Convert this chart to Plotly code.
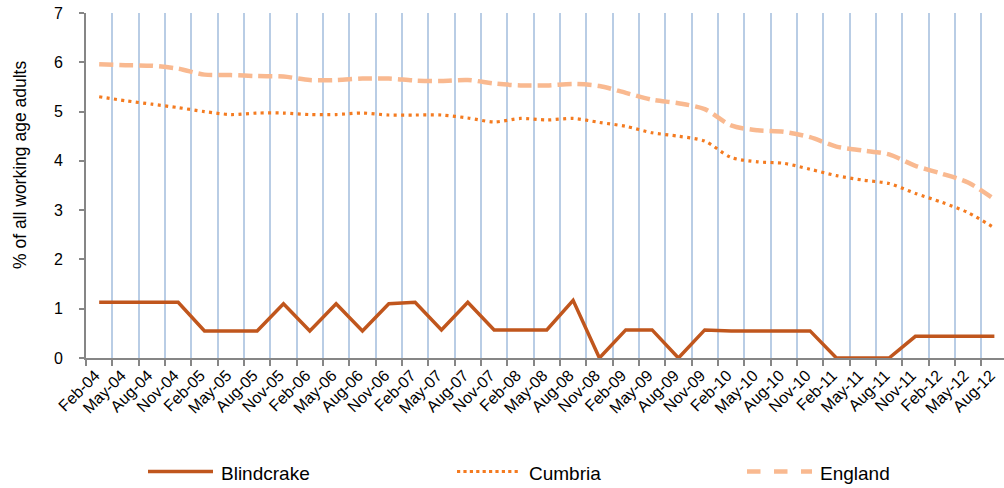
import plotly.graph_objects as go

categories = ["Feb-04", "May-04", "Aug-04", "Nov-04", "Feb-05", "May-05", "Aug-05", "Nov-05",
              "Feb-06", "May-06", "Aug-06", "Nov-06", "Feb-07", "May-07", "Aug-07", "Nov-07",
              "Feb-08", "May-08", "Aug-08", "Nov-08", "Feb-09", "May-09", "Aug-09", "Nov-09",
              "Feb-10", "May-10", "Aug-10", "Nov-10", "Feb-11", "May-11", "Aug-11", "Nov-11",
              "Feb-12", "May-12", "Aug-12"]

blindcrake = [1.13, 1.13, 1.13, 1.13, 0.55, 0.55, 0.55, 1.10, 0.55, 1.10, 0.55, 1.10,
              1.13, 0.57, 1.13, 0.57, 0.57, 0.57, 1.17, 0.0, 0.57, 0.57, 0.0, 0.57,
              0.55, 0.55, 0.55, 0.55, 0.0, 0.0, 0.0, 0.44, 0.44, 0.44, 0.44]

cumbria = [5.30, 5.22, 5.15, 5.08, 5.00, 4.94, 4.97, 4.97, 4.94, 4.94, 4.97, 4.93,
           4.93, 4.93, 4.87, 4.79, 4.86, 4.83, 4.86, 4.78, 4.70, 4.57, 4.50, 4.40,
           4.07, 3.98, 3.95, 3.83, 3.70, 3.61, 3.54, 3.34, 3.16, 2.95, 2.64]

england = [5.96, 5.94, 5.93, 5.87, 5.75, 5.74, 5.72, 5.71, 5.64, 5.64, 5.67, 5.67,
           5.63, 5.62, 5.64, 5.57, 5.53, 5.53, 5.56, 5.52, 5.38, 5.24, 5.17, 5.05,
           4.72, 4.62, 4.59, 4.48, 4.29, 4.21, 4.13, 3.90, 3.74, 3.56, 3.22]

series_names = ["Blindcrake", "Cumbria", "England"]
y_title = "% of all working age adults"
y_ticks = [0, 1, 2, 3, 4, 5, 6, 7]

C_BLIND = "#C0561D"
C_CUMB = "#F47B20"
C_ENG = "#F9B990"
FONT = "Liberation Sans, Arial, sans-serif"

W, H = 1004, 488
ML, MT, MB, MR = 86, 13, 130, 0
PW = W - ML - MR
PH = H - MT - MB


def px2x(px):
    return (px - ML) / PW


def py2y(py):
    return (H - MB - py) / PH


fig = go.Figure()
fig.add_trace(go.Scatter(x=categories, y=blindcrake, mode="lines", name=series_names[0],
                         line=dict(color=C_BLIND, width=3.5), showlegend=False))
fig.add_trace(go.Scatter(x=categories, y=cumbria, mode="lines", name=series_names[1],
                         line=dict(color=C_CUMB, width=3.2, dash="3px,4.4px", shape="spline", smoothing=0.8),
                         showlegend=False))
fig.add_trace(go.Scatter(x=categories, y=england, mode="lines", name=series_names[2],
                         line=dict(color=C_ENG, width=4.5, dash="14px,6px", shape="spline", smoothing=0.8),
                         showlegend=False))

unit = 26.33
fig.update_xaxes(
    type="category",
    automargin=False,
    range=[-0.5, -0.5 + PW / unit],
    tickson="boundaries",
    showgrid=True, gridcolor="#B9CDE5", gridwidth=1.6,
    showline=True, linecolor="#868686", linewidth=1.6,
    ticks="outside", ticklen=6, tickcolor="#868686", tickwidth=1.6,
    tickangle=-45,
    ticklabelshift=-4,
    tickfont=dict(family=FONT, size=16, color="#000000"),
    zeroline=False,
)
fig.update_yaxes(
    automargin=False,
    range=[0, 7],
    tickvals=y_ticks,
    showgrid=False, zeroline=False,
    showline=True, linecolor="#868686", linewidth=1.6,
    ticks="outside", ticklen=5, tickcolor="#868686", tickwidth=1.6,
    ticklabelstandoff=13,
    tickfont=dict(family=FONT, size=16, color="#000000"),
)

# y-axis title
annotations = [dict(text=y_title, xref="paper", yref="paper", x=px2x(20), y=py2y(165),
                    textangle=-90, showarrow=False, xanchor="center", yanchor="middle",
                    font=dict(family=FONT, size=17.5, color="#000000"))]

# manual legend
shapes = []
legend_items = [
    (series_names[0], C_BLIND, 3.5, "solid", 148, 213, 219),
    (series_names[1], C_CUMB, 3.2, "dot", 457, 520, 527),
    (series_names[2], C_ENG, 4.5, "dash", 747, 812, 818),
]
LY = 471.5
for name, col, w, dash, x0, x1, tx in legend_items:
    shapes.append(dict(type="line", xref="paper", yref="paper", x0=px2x(x0), x1=px2x(x1),
                       y0=py2y(LY), y1=py2y(LY), line=dict(color=col, width=w, dash=dash)))
    annotations.append(dict(text=name, xref="paper", yref="paper", x=px2x(tx), y=py2y(473),
                            showarrow=False, xanchor="left", yanchor="middle",
                            font=dict(family=FONT, size=19, color="#000000")))

fig.update_layout(
    width=W, height=H,
    margin=dict(l=ML, r=MR, t=MT, b=MB, pad=0, autoexpand=False),
    paper_bgcolor="white", plot_bgcolor="white",
    showlegend=False,
    annotations=annotations,
    shapes=shapes,
)

fig.write_html("out.html", config={"displayModeBar": False},
               post_script="document.body.style.margin='0';document.body.style.overflow='hidden';")
